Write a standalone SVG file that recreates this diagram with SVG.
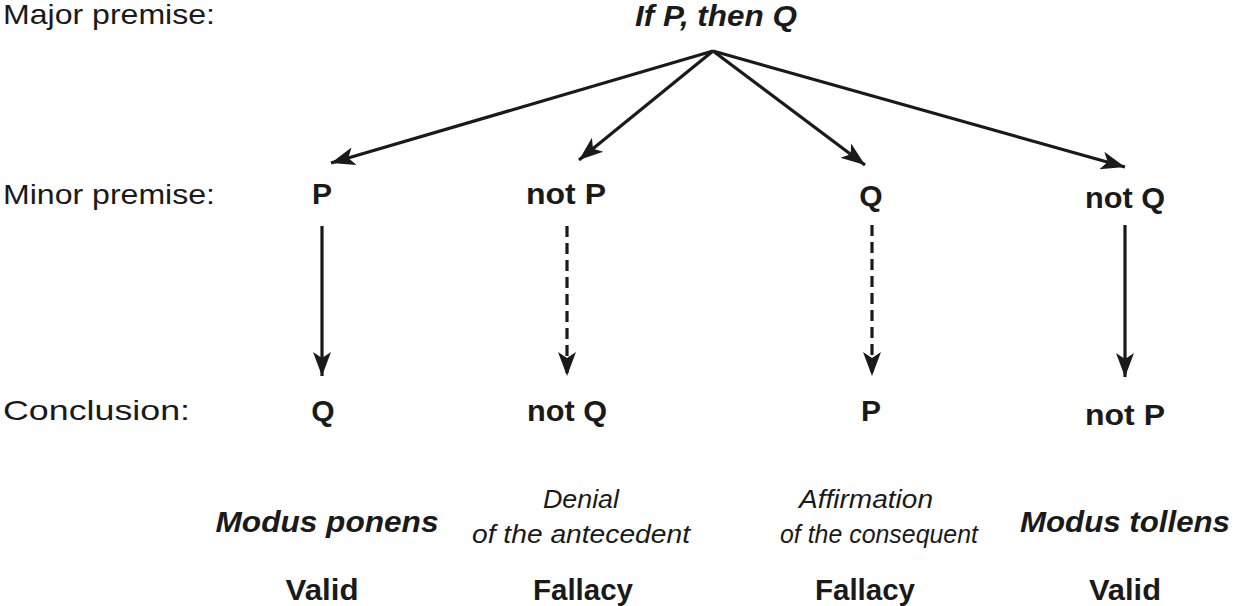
<svg xmlns="http://www.w3.org/2000/svg" width="1233" height="606" viewBox="0 0 1233 606">
<style>
text{font-family:"Liberation Sans",Arial,sans-serif;fill:#1a1a1a}
.lab{font-size:28.5px}
.b{font-size:30px;font-weight:bold;text-anchor:middle}
.bi{font-size:30px;font-weight:bold;font-style:italic;text-anchor:middle}
.it{font-size:26.5px;font-style:italic;text-anchor:middle}
.ln{stroke:#1a1a1a;stroke-width:3.2;fill:none;marker-end:url(#ah)}
.d{stroke-dasharray:11 6}
</style>
<defs>
<marker id="ah" markerUnits="userSpaceOnUse" markerWidth="26" markerHeight="22" viewBox="0 -11 26 22" refX="24" refY="0" orient="auto">
<path d="M0,-9 L24,0 L0,9 L6,0 Z" fill="#1a1a1a"/>
</marker>
</defs>
<g id="row-labels">
<text class="lab" x="3" y="24" textLength="212" lengthAdjust="spacingAndGlyphs">Major premise:</text>
<text class="lab" x="3" y="204" textLength="212" lengthAdjust="spacingAndGlyphs">Minor premise:</text>
<text class="lab" x="3" y="420" textLength="187" lengthAdjust="spacingAndGlyphs">Conclusion:</text>
</g>
<g id="major"><text class="bi" x="716" y="26" textLength="162" lengthAdjust="spacingAndGlyphs">If P, then Q</text></g>
<g id="minor-P"><text class="b" x="322" y="204">P</text></g>
<g id="minor-notP"><text class="b" x="566" y="204" textLength="80" lengthAdjust="spacingAndGlyphs">not P</text></g>
<g id="minor-Q"><text class="b" x="871" y="206">Q</text></g>
<g id="minor-notQ"><text class="b" x="1125" y="208" textLength="80" lengthAdjust="spacingAndGlyphs">not Q</text></g>
<g id="concl-Q"><text class="b" x="323" y="421">Q</text></g>
<g id="concl-notQ"><text class="b" x="567" y="421" textLength="80" lengthAdjust="spacingAndGlyphs">not Q</text></g>
<g id="concl-P"><text class="b" x="871" y="421">P</text></g>
<g id="concl-notP"><text class="b" x="1125" y="425" textLength="80" lengthAdjust="spacingAndGlyphs">not P</text></g>
<g id="name-mp"><text class="bi" x="327" y="532" textLength="223" lengthAdjust="spacingAndGlyphs">Modus ponens</text></g>
<g id="name-da"><text class="it" x="581" y="508" textLength="76" lengthAdjust="spacingAndGlyphs">Denial</text><text class="it" x="581" y="543" textLength="218" lengthAdjust="spacingAndGlyphs">of the antecedent</text></g>
<g id="name-ac"><text class="it" x="866" y="508" textLength="134" lengthAdjust="spacingAndGlyphs">Affirmation</text><text class="it" x="879" y="543" textLength="198" lengthAdjust="spacingAndGlyphs">of the consequent</text></g>
<g id="name-mt"><text class="bi" x="1125" y="532" textLength="210" lengthAdjust="spacingAndGlyphs">Modus tollens</text></g>
<g id="verdicts">
<text class="b" x="322" y="600" textLength="73" lengthAdjust="spacingAndGlyphs">Valid</text>
<text class="b" x="583" y="600" textLength="100" lengthAdjust="spacingAndGlyphs">Fallacy</text>
<text class="b" x="865" y="600" textLength="100" lengthAdjust="spacingAndGlyphs">Fallacy</text>
<text class="b" x="1125" y="600" textLength="72" lengthAdjust="spacingAndGlyphs">Valid</text>
</g>
<g id="connectors">
<line class="ln" x1="713" y1="51" x2="331" y2="163"/>
<line class="ln" x1="713" y1="51" x2="579" y2="160"/>
<line class="ln" x1="713" y1="51" x2="865" y2="165"/>
<line class="ln" x1="713" y1="51" x2="1125" y2="167"/>
<line class="ln" x1="322" y1="226" x2="322" y2="376"/>
<line class="ln d" x1="567" y1="226" x2="567" y2="376"/>
<line class="ln d" x1="872" y1="225" x2="872" y2="376"/>
<line class="ln" x1="1125" y1="225" x2="1125" y2="377"/>
</g>
</svg>
